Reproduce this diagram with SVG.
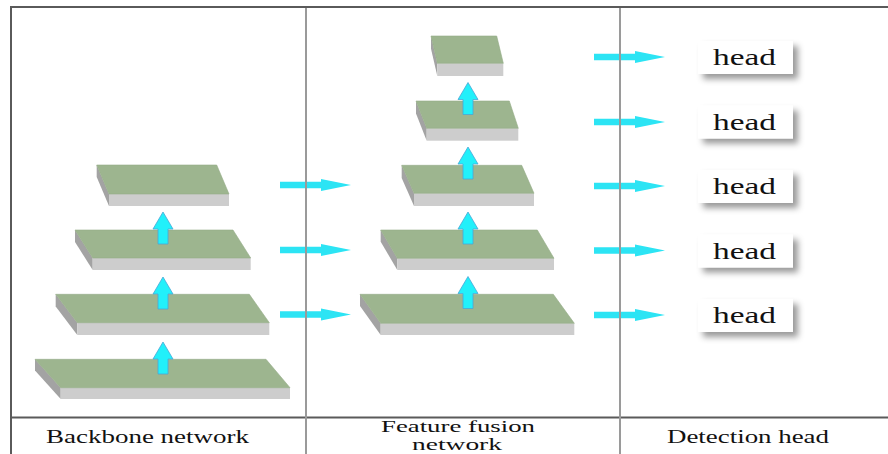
<svg xmlns="http://www.w3.org/2000/svg" xmlns:xlink="http://www.w3.org/1999/xlink" width="888" height="454" viewBox="0 0 888 454">
  <style>
    .top { fill: #9db58f; stroke: #93ab86; stroke-width: 0.6; }
    .front { fill: #cdcdcd; }
    .side { fill: #a3a3a3; }
    .arrow { fill: #22f0fa; stroke: #4aa6d6; stroke-width: 0.8; }
    .harrow { fill: #2ce4f4; }
    .box { fill: #ffffff; filter: url(#shadow); }
    .head-text { font-family: "Liberation Serif", "Times New Roman", serif; font-size: 22.5px; fill: #111; }
    .label { font-family: "Liberation Serif", "Times New Roman", serif; font-size: 18px; fill: #111; }
    .label-2 { font-family: "Liberation Serif", "Times New Roman", serif; font-size: 16.5px; fill: #111; }
    .frame { stroke: #5a5a5a; stroke-width: 2; fill: none; }
    .divider { stroke: #9a9a9a; stroke-width: 2; fill: none; }
  </style>
  <defs>
    <filter id="shadow" x="-20%" y="-30%" width="150%" height="180%">
      <feDropShadow dx="5" dy="5" stdDeviation="3" flood-color="#000" flood-opacity="0.4"/>
    </filter>
    <!-- upward arrow, tip at the origin -->
    <path id="up" d="M0,0 L10,17 L5,17 L5,32 L-5,32 L-5,17 L-10,17 Z"/>
    <!-- rightward arrow, tip at the origin -->
    <path id="right" d="M0,0 L-30,-6 L-30,-3.2 L-71,-3.2 L-71,3.2 L-30,3.2 L-30,6 Z"/>
  </defs>

  <rect width="888" height="454" fill="#ffffff"/>

  <!-- Backbone pyramid -->
  <g id="backbone-1">
    <polygon class="side" points="96.7,165 109,194 109,206 96.7,177"/>
    <rect class="front" x="109" y="194" width="120" height="12"/>
    <polygon class="top" points="96.7,165 216.7,165 229,194 109,194"/>
  </g>
  <g id="backbone-2">
    <polygon class="side" points="75,230 92.7,258 92.7,270 75,242"/>
    <rect class="front" x="92.7" y="258" width="158" height="12"/>
    <polygon class="top" points="75,230 233,230 250.7,258 92.7,258"/>
  </g>
  <g id="backbone-3">
    <polygon class="side" points="55.7,294.3 77.3,322.7 77.3,335 55.7,306.6"/>
    <rect class="front" x="77.3" y="322.7" width="192" height="12.3"/>
    <polygon class="top" points="55.7,294.3 249.3,294.3 269.3,322.7 77.3,322.7"/>
  </g>
  <g id="backbone-4">
    <polygon class="side" points="35,359.3 60.7,387.7 60.7,399 35,370.6"/>
    <rect class="front" x="60.7" y="387.7" width="229.3" height="11.3"/>
    <polygon class="top" points="35,359.3 266,359.3 290,387.7 60.7,387.7"/>
  </g>

  <!-- Feature fusion pyramid -->
  <g id="fusion-1">
    <polygon class="side" points="431,36 437.3,63.3 437.3,76 431,48.7"/>
    <rect class="front" x="437.3" y="63.3" width="66" height="12.7"/>
    <polygon class="top" points="431,36 496.7,36 503.3,63.3 437.3,63.3"/>
  </g>
  <g id="fusion-2">
    <polygon class="side" points="416,101 426.7,128.3 426.7,140.7 416,113.4"/>
    <rect class="front" x="426.7" y="128.3" width="91.6" height="12.4"/>
    <polygon class="top" points="416,101 509.3,101 518.3,128.3 426.7,128.3"/>
  </g>
  <g id="fusion-3">
    <polygon class="side" points="401.7,165.3 414,193.3 414,206 401.7,178"/>
    <rect class="front" x="414" y="193.3" width="120" height="12.7"/>
    <polygon class="top" points="401.7,165.3 521.7,165.3 534,193.3 414,193.3"/>
  </g>
  <g id="fusion-4">
    <polygon class="side" points="380.7,230 397.3,258.3 397.3,270 380.7,241.7"/>
    <rect class="front" x="397.3" y="258.3" width="156.7" height="11.7"/>
    <polygon class="top" points="380.7,230 537.3,230 554,258.3 397.3,258.3"/>
  </g>
  <g id="fusion-5">
    <polygon class="side" points="360,294.3 380.7,323.3 380.7,335 360,306"/>
    <rect class="front" x="380.7" y="323.3" width="193.6" height="11.7"/>
    <polygon class="top" points="360,294.3 553.3,294.3 574.3,323.3 380.7,323.3"/>
  </g>

  <!-- Detection heads -->
  <g id="head-1">
    <rect class="box" x="698" y="41" width="95" height="33"/>
    <text class="head-text" x="713" y="65" textLength="63" lengthAdjust="spacingAndGlyphs">head</text>
  </g>
  <g id="head-2">
    <rect class="box" x="698" y="105.5" width="95" height="33"/>
    <text class="head-text" x="713" y="129.5" textLength="63" lengthAdjust="spacingAndGlyphs">head</text>
  </g>
  <g id="head-3">
    <rect class="box" x="698" y="170" width="95" height="33"/>
    <text class="head-text" x="713" y="194" textLength="63" lengthAdjust="spacingAndGlyphs">head</text>
  </g>
  <g id="head-4">
    <rect class="box" x="698" y="234.5" width="95" height="33"/>
    <text class="head-text" x="713" y="258.5" textLength="63" lengthAdjust="spacingAndGlyphs">head</text>
  </g>
  <g id="head-5">
    <rect class="box" x="698" y="299" width="95" height="33"/>
    <text class="head-text" x="713" y="323" textLength="63" lengthAdjust="spacingAndGlyphs">head</text>
  </g>

  <!-- Connectors -->
  <g id="connectors">
    <!-- bottom-up flow in the backbone -->
    <use href="#up" class="arrow" x="163" y="212"/>
    <use href="#up" class="arrow" x="163" y="277"/>
    <use href="#up" class="arrow" x="163" y="342"/>
    <!-- bottom-up flow in the fusion network -->
    <use href="#up" class="arrow" x="468" y="82.5"/>
    <use href="#up" class="arrow" x="468" y="147"/>
    <use href="#up" class="arrow" x="468" y="212"/>
    <use href="#up" class="arrow" x="468" y="276.5"/>
    <!-- backbone to fusion -->
    <use href="#right" class="harrow" x="351" y="185"/>
    <use href="#right" class="harrow" x="351" y="250"/>
    <use href="#right" class="harrow" x="351" y="314.5"/>
    <!-- fusion to heads -->
    <use href="#right" class="harrow" x="665" y="57"/>
    <use href="#right" class="harrow" x="665" y="122"/>
    <use href="#right" class="harrow" x="665" y="186"/>
    <use href="#right" class="harrow" x="665" y="250.5"/>
    <use href="#right" class="harrow" x="665" y="315"/>
  </g>

  <!-- Table frame -->
  <g id="frame">
    <line class="frame" x1="10" y1="7" x2="888" y2="7"/>
    <line class="frame" x1="11" y1="6" x2="11" y2="454" stroke="#333"/>
    <line class="frame" x1="11" y1="417.5" x2="888" y2="417.5" stroke-width="1.6"/>
    <line class="divider" x1="306" y1="8" x2="306" y2="454"/>
    <line class="divider" x1="620" y1="8" x2="620" y2="454"/>
  </g>

  <!-- Column captions -->
  <g id="captions">
    <text class="label" x="46" y="443" textLength="203" lengthAdjust="spacingAndGlyphs">Backbone network</text>
    <text class="label-2" x="381" y="431.5" textLength="154" lengthAdjust="spacingAndGlyphs">Feature fusion</text>
    <text class="label-2" x="412" y="450" textLength="90" lengthAdjust="spacingAndGlyphs">network</text>
    <text class="label" x="667" y="443" textLength="162" lengthAdjust="spacingAndGlyphs">Detection head</text>
  </g>
</svg>
